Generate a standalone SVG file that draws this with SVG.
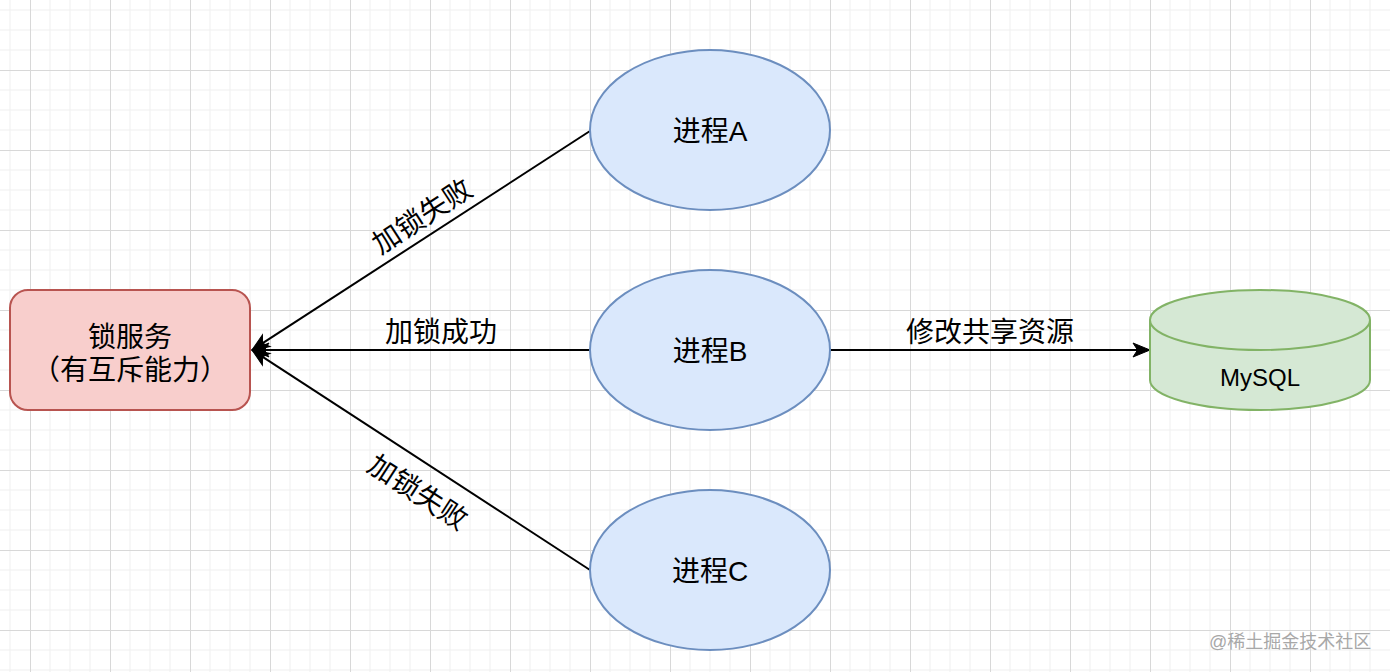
<svg xmlns="http://www.w3.org/2000/svg" width="1390" height="672" viewBox="0 0 1390 672">
  <defs>
    <pattern id="grid" patternUnits="userSpaceOnUse" x="30" y="70" width="80" height="80">
      <path d="M20,0 V80 M40,0 V80 M60,0 V80 M0,20 H80 M0,40 H80 M0,60 H80" stroke="#efefef" stroke-width="1" fill="none"/>
      <path d="M0.5,0 V80 M0,0.5 H80" stroke="#d8d8d8" stroke-width="1" fill="none"/>
    </pattern>
    <marker id="arrow" markerUnits="userSpaceOnUse" viewBox="-19 -9 21 18" markerWidth="21" markerHeight="18" refX="0" refY="0" orient="auto">
      <path d="M0,0 L-17,-7 L-12.5,0 L-17,7 Z" fill="#000" stroke="#000" stroke-width="1" stroke-linejoin="miter"/>
    </marker>
    <style>
      .txt { font-family: "Liberation Sans", "Noto Sans CJK SC", sans-serif; fill: #000; }
      .lbl { font-size: 28px; text-anchor: middle; }
      .proc { fill: #dae8fc; stroke: #6c8ebf; stroke-width: 2; }
      .edge { stroke: #000; stroke-width: 2; fill: none; marker-end: url(#arrow); }
    </style>
  </defs>

  <rect width="1390" height="672" fill="#ffffff"/>
  <rect width="1390" height="672" fill="url(#grid)"/>

  <g id="connectors">
    <line class="edge" x1="590" y1="131" x2="252" y2="350"/>
    <line class="edge" x1="590" y1="350" x2="252" y2="350"/>
    <line class="edge" x1="590" y1="570" x2="252" y2="350"/>
    <line class="edge" x1="830" y1="350" x2="1150" y2="350"/>
    <text class="txt lbl" transform="translate(422,216) rotate(-33)" x="0" y="10">加锁失败</text>
    <text class="txt lbl" x="441" y="342">加锁成功</text>
    <text class="txt lbl" transform="translate(418,492) rotate(33)" x="0" y="10">加锁失败</text>
    <text class="txt lbl" x="990" y="342">修改共享资源</text>
  </g>

  <g id="lock-service">
    <rect x="10" y="290" width="240" height="120" rx="18" ry="18" fill="#f8cecc" stroke="#b85450" stroke-width="2"/>
    <text class="txt lbl" x="130" y="347">锁服务</text>
    <text class="txt lbl" x="130" y="380">（有互斥能力）</text>
  </g>

  <g id="process-a">
    <ellipse class="proc" cx="710" cy="130" rx="120" ry="80"/>
    <text class="txt lbl" x="710" y="141">进程A</text>
  </g>

  <g id="process-b">
    <ellipse class="proc" cx="710" cy="350" rx="120" ry="80"/>
    <text class="txt lbl" x="710" y="361">进程B</text>
  </g>

  <g id="process-c">
    <ellipse class="proc" cx="710" cy="570" rx="120" ry="80"/>
    <text class="txt lbl" x="710" y="581">进程C</text>
  </g>

  <g id="mysql">
    <path d="M1150,320 A110,30 0 0 1 1370,320 L1370,380 A110,30 0 0 1 1150,380 Z" fill="#d5e8d4" stroke="#82b366" stroke-width="2"/>
    <path d="M1150,320 A110,30 0 0 0 1370,320" fill="none" stroke="#82b366" stroke-width="2"/>
    <text class="txt" x="1260" y="386" font-size="24" text-anchor="middle">MySQL</text>
  </g>

  <text class="txt" x="1209" y="648" font-size="18" style="fill:#a8a8a8">@稀土掘金技术社区</text>
</svg>
